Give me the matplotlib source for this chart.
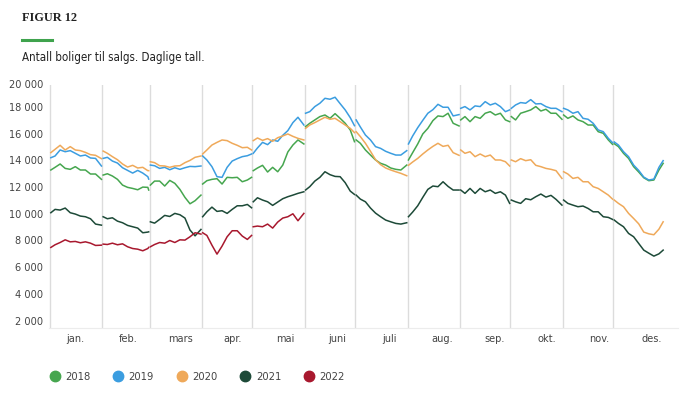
import numpy as np
import matplotlib.pyplot as plt
from matplotlib.lines import Line2D

plt.rcParams['font.family'] = ['DejaVu Sans']
plt.rcParams['font.stretch'] = 'condensed'

months = ["jan.", "feb.", "mars", "apr.", "mai", "juni", "juli", "aug.", "sep.", "okt.", "nov.", "des."]
month_start = [0, 31, 59, 90, 120, 151, 181, 212, 243, 273, 304, 334]
# sample days inside each month, last one per month below
offsets = [0.5, 3, 6, 9, 12, 15, 18, 21, 24, 27]
last_day = [30.5, 27.5, 30.5, 29.5, 30.5, 29.5, 30.5, 30.5, 29.5, 30.5, 29.5, 29.5]

# daily stock of homes for sale, 11 readings per month
y2018 = [
    13280, 13480, 13730, 13400, 13330, 13530, 13280, 13280, 12980, 12980, 12580,
    12900, 13000, 12830, 12580, 12150, 11980, 11900, 11800, 12000, 11980, 11780,
    12150, 12450, 12450, 12080, 12500, 12280, 11830, 11230, 10750, 10980, 11400,
    12230, 12480, 12580, 12630, 12230, 12730, 12700, 12730, 12400, 12530, 12730,
    13230, 13430, 13630, 13130, 13480, 13150, 13650, 14630, 15150, 15530, 15230,
    16530, 16780, 17030, 17280, 17400, 17150, 17500, 17150, 16780, 16280, 15400,
    15530, 15280, 14780, 14400, 14030, 13780, 13650, 13430, 13330, 13280, 13650,
    14030, 14580, 15230, 15980, 16400, 16980, 17330, 17280, 17530, 16780, 16580,
    17030, 17280, 16900, 17280, 17150, 17530, 17650, 17400, 17530, 17030, 16900,
    17280, 17030, 17530, 17650, 17780, 18030, 17700, 17830, 17530, 17530, 17080,
    17400, 17150, 17330, 17030, 16900, 16650, 16650, 16150, 16030, 15530, 15200,
    15250, 15030, 14530, 14150, 13530, 13130, 12700, 12480, 12530, 13280, 13780,
]
y2019 = [
    14200, 14330, 14780, 14650, 14730, 14530, 14330, 14400, 14180, 14150, 13580,
    14150, 14230, 13950, 13800, 13450, 13250, 13050, 13250, 13050, 12780, 12600,
    13650, 13600, 13400, 13480, 13300, 13450, 13330, 13450, 13550, 13530, 13580,
    14330, 14030, 13530, 12780, 12730, 13480, 13950, 14130, 14280, 14350, 14480,
    14530, 14930, 15350, 15180, 15530, 15430, 15880, 16230, 16830, 17230, 16650,
    17530, 17650, 18030, 18280, 18650, 18580, 18730, 18250, 17780, 17200, 16600,
    17030, 16500, 15900, 15530, 15030, 14900, 14680, 14530, 14400, 14400, 14730,
    15230, 15830, 16450, 17000, 17530, 17800, 18200, 17980, 17980, 17330, 17430,
    17900, 18030, 17780, 18080, 18030, 18400, 18150, 18280, 18030, 17650, 17780,
    17900, 18150, 18330, 18280, 18550, 18230, 18250, 18030, 17900, 17900, 17650,
    17900, 17780, 17530, 17650, 17150, 17080, 16780, 16280, 16150, 15650, 15330,
    15380, 15150, 14650, 14280, 13650, 13250, 12750, 12530, 12600, 13480, 13980,
]
y2020 = [
    14580, 14830, 15130, 14780, 15030, 14780, 14730, 14600, 14430, 14380, 14130,
    14700, 14530, 14280, 14050, 13730, 13500, 13630, 13430, 13480, 13230, 13230,
    13900, 13830, 13600, 13580, 13480, 13580, 13600, 13830, 14000, 14230, 14330,
    14480, 14780, 15150, 15350, 15530, 15480, 15280, 15130, 14950, 14980, 14780,
    15480, 15680, 15500, 15630, 15430, 15700, 15830, 15980, 15800, 15650, 15530,
    16400, 16650, 16830, 17030, 17230, 17080, 17150, 16900, 16650, 16400, 16080,
    16150, 15780, 15280, 14680, 14050, 13680, 13430, 13280, 13150, 13030, 12850,
    13630, 13880, 14150, 14480, 14780, 15050, 15280, 15050, 15130, 14580, 14380,
    14780, 14530, 14650, 14280, 14480, 14280, 14400, 14030, 14030, 13900, 13580,
    14030, 13900, 14130, 13980, 14050, 13630, 13530, 13400, 13330, 13230, 12650,
    13150, 12980, 12650, 12730, 12400, 12400, 12030, 11900, 11650, 11400, 11100,
    11030, 10780, 10530, 10030, 9650, 9250, 8630, 8500, 8430, 8850, 9400,
]
y2021 = [
    10080, 10330, 10280, 10430, 10080, 9980, 9830, 9780, 9630, 9230, 9150,
    9780, 9630, 9700, 9450, 9330, 9130, 9030, 8930, 8580, 8630, 8650,
    9400, 9300, 9580, 9880, 9800, 10030, 9930, 9680, 8780, 8350, 8830,
    9780, 10150, 10500, 10180, 10230, 10030, 10330, 10600, 10600, 10700, 10450,
    10900, 11200, 11030, 10900, 10630, 10880, 11130, 11280, 11400, 11530, 11650,
    11780, 12030, 12450, 12730, 13150, 12930, 12800, 12780, 12330, 11700, 11450,
    11400, 11100, 10900, 10430, 10050, 9780, 9530, 9400, 9280, 9230, 9330,
    9780, 10130, 10600, 11230, 11830, 12080, 12030, 12400, 12050, 11780, 11780,
    11780, 11530, 11900, 11530, 11900, 11650, 11780, 11530, 11650, 11400, 10780,
    11030, 10900, 10780, 11130, 11050, 11280, 11480, 11250, 11380, 11080, 10650,
    11030, 10780, 10650, 10530, 10580, 10400, 10150, 10150, 9780, 9730, 9580,
    9530, 9280, 9030, 8530, 8280, 7780, 7280, 7050, 6830, 7000, 7280,
]
y2022 = [
    7480, 7680, 7850, 8050, 7900, 7930, 7830, 7900, 7800, 7630, 7650,
    7730, 7700, 7800, 7680, 7750, 7530, 7400, 7350, 7230, 7400, 7480,
    7530, 7700, 7850, 7800, 8000, 7850, 8050, 8030, 8280, 8580, 8480,
    8580, 8380, 7650, 6980, 7580, 8280, 8730, 8730, 8330, 8080, 8380,
    9030, 9080, 9030, 9230, 8930, 9380, 9680, 9780, 10000, 9480, 10030,
]

series = [
    ("2018", y2018, "#46a64f"),
    ("2019", y2019, "#3b9de0"),
    ("2020", y2020, "#efa95a"),
    ("2021", y2021, "#1d4a38"),
    ("2022", y2022, "#a8182e"),
]

fig = plt.figure(figsize=(6.9, 4.12), dpi=100)
ax = fig.add_axes([0.071, 0.204, 0.9116, 0.5898])

for m in month_start:
    ax.axvline(m, color="#dcdcdc", lw=1.0, zorder=0)

for label, vals, color in series:
    for m in range(len(vals) // 11):
        x = [month_start[m] + o for o in offsets] + [month_start[m] + last_day[m]]
        ax.plot(x, vals[m * 11:(m + 1) * 11], color=color, lw=1.1, solid_joinstyle="round")

ax.set_xlim(-0.6, 372.3)
ax.set_ylim(1450, 19650)

yt = list(range(2000, 20000, 2000))
ax.set_yticks(yt)
ax.set_yticklabels([f"{v:,}".replace(",", " ") for v in yt])
ax.text(-0.0095, 1.0, "20 000", transform=ax.transAxes, ha="right", va="center",
        fontsize=7.8, color="#444444")

step = 372.9 / 12
ax.set_xticks([-0.6 + (i + 0.5) * step for i in range(12)])
ax.set_xticklabels(months)

ax.tick_params(axis="both", length=0, labelsize=7.8, labelcolor="#444444")
ax.tick_params(axis="y", pad=4)
ax.tick_params(axis="x", pad=4)
for s in ["top", "right", "left"]:
    ax.spines[s].set_visible(False)
ax.spines["bottom"].set_color("#ececec")

fig.text(22 / 690, 1 - 18 / 412, "FIGUR 12", fontsize=8.8, fontweight="bold",
         family="Liberation Serif", color="#222222", va="center")
fig.add_artist(Line2D([22 / 690, 52 / 690], [1 - 40 / 412, 1 - 40 / 412],
                      color="#3fa34d", lw=2.2))
fig.text(22 / 690, 1 - 57 / 412, "Antall boliger til salgs. Daglige tall.",
         fontsize=8.3, color="#222222", va="center")

handles = [Line2D([], [], ls="", marker="o", markersize=7.5, color=c) for _, _, c in series]
fig.legend(handles, [s[0] for s in series], loc="center left",
           bbox_to_anchor=(49.5 / 690, 1 - 377 / 412), ncol=5, frameon=False,
           fontsize=8, handlelength=0.9, handletextpad=0.5, columnspacing=2.05,
           borderpad=0, borderaxespad=0, labelcolor="#444444")

fig.savefig("out.png", dpi=100)
